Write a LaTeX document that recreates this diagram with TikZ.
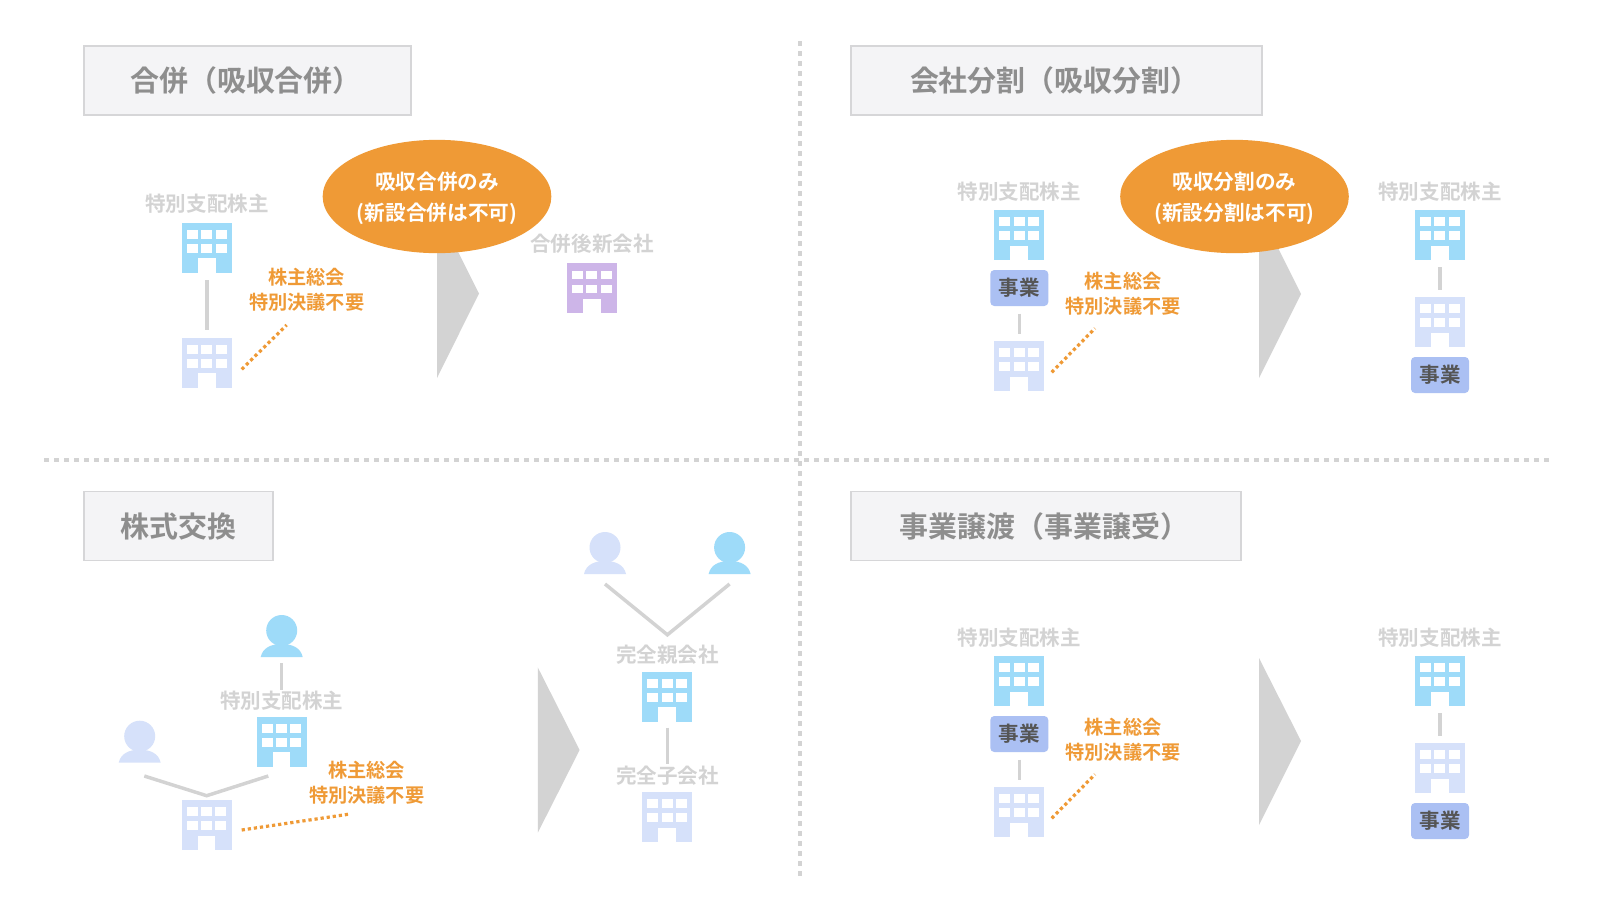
\documentclass[tikz,border=0pt]{standalone}
\usepackage{fontspec}
\setmainfont{Noto Sans CJK JP}[BoldFont={Noto Sans CJK JP Bold}]
\usetikzlibrary{shapes.geometric,calc}
\definecolor{bcyan}{HTML}{9EDBF9}
\definecolor{blight}{HTML}{D6E1FA}
\definecolor{bpurple}{HTML}{CDB5E8}
\definecolor{orangeC}{HTML}{EF9A36}
\definecolor{grayL}{HTML}{D3D3D3}
\definecolor{grayT}{HTML}{8E8E8E}
\definecolor{boxF}{HTML}{F4F4F6}
\definecolor{boxD}{HTML}{D6D6D8}
\definecolor{bizF}{HTML}{ABC0F3}
\definecolor{bizT}{HTML}{555555}
\tikzset{
  x=0.75pt,y=-0.75pt,
  bldg/.style={rectangle,draw=none,inner sep=0pt,outer sep=0pt,minimum size=37.5pt,fill=#1,
    path picture={
      \foreach \wx in {-20,-5.7,8.7}{\foreach \wy in {-17.7,-3.7}{
        \fill[white] (\wx,\wy) rectangle (\wx+11,\wy+8.7);}}
      \fill[white] (-9,10.7) rectangle (8.7,26);
    }},
  person/.style={rectangle,draw=none,inner sep=0pt,outer sep=0pt,minimum size=31.5pt,
    path picture={
      \fill[#1] (0,-5.5) circle [radius=15.5];
      \fill[#1] (-21,21) .. controls (-19,12) and (-11,8) .. (0,8) .. controls (11,8) and (19,12) .. (21,21) -- cycle;
    }},
  titlebox/.style={rectangle,draw=boxD,line width=1.1pt,fill=boxF,inner sep=0pt},
  titletxt/.style={text=grayT,font=\bfseries\fontsize{21.7}{24}\selectfont,inner sep=0pt},
  glabel/.style={text=grayL,font=\bfseries\fontsize{15.4}{19}\selectfont,inner sep=0pt,yshift=-0.5pt},
  olabel/.style={text=orangeC,align=center,font=\bfseries\fontsize{14.4}{19}\selectfont,inner sep=0pt},
  bubble/.style={ellipse,fill=orangeC,inner sep=0pt,minimum width=171.5pt,minimum height=85pt},
  bubbletxt/.style={text=white,align=center,inner sep=0pt,font=\bfseries\fontsize{15.5}{23.6}\selectfont},
  biz/.style={rectangle,rounded corners=3pt,fill=bizF,text=bizT,inner sep=0pt,minimum width=43.5pt,minimum height=27pt,font=\bfseries\fontsize{15.4}{19}\selectfont},
  conn/.style={draw=grayL,line width=2.6pt,shorten >=5.6pt,shorten <=5.6pt},
  connv/.style={draw=grayL,line width=2.6pt},
  dotline/.style={draw=orangeC,line width=2.4pt,dash pattern=on 2.4pt off 2.2pt},
  sep/.style={draw=grayL,line width=3.4pt,dash pattern=on 3.4pt off 4.1pt},
  chev/.style={fill=grayL,draw=none}
}
\begin{document}
\begin{tikzpicture}
\useasboundingbox (0,0) rectangle (1600,900);
\fill[white] (0,0) rectangle (1600,900);
% separators
\coordinate (sepT) at (800,41); \coordinate (sepB) at (800,878);
\coordinate (sepL) at (44,460); \coordinate (sepR) at (1550,460);
\draw[sep] (sepT) -- (sepB);
\draw[sep] (sepL) -- (sepR);
% titles
\node[titlebox,minimum width=245pt,minimum height=52pt] (tA) at (247.5,80.5) {};
\node[titletxt] (tAt) at (246,81) {合併（吸収合併）};
\node[titlebox,minimum width=308.5pt,minimum height=52pt] (tB) at (1056.5,80.5) {};
\node[titletxt] (tBt) at (1054.7,81) {会社分割（吸収分割）};
\node[titlebox,minimum width=141.75pt,minimum height=52pt] (tC) at (178.5,526) {};
\node[titletxt] (tCt) at (178.2,526.5) {株式交換};
\node[titlebox,minimum width=292.5pt,minimum height=52pt] (tD) at (1046,526) {};
\node[titletxt] (tDt) at (1044.5,526.5) {事業譲渡（事業譲受）};
% Panel A
\fill[chev] (437,210) -- (479,293.5) -- (437,378) -- cycle;
\node[glabel] (aL) at (207,203) {特別支配株主};
\node[bldg=bcyan] (a1) at (207,247.7) {};
\node[bldg=blight] (a2) at (207,362.7) {};
\draw[conn] (a1) -- (a2);
\node[olabel] (aO) at (306.7,290) {株主総会\\特別決議不要};
\coordinate (aD1) at (241.7,369.3); \coordinate (aD2) at (286.7,325);
\draw[dotline] (aD1) -- (aD2);
\node[bubble] (aE) at (437,196.5) {};
\node[bubbletxt] (aEt) at (437,198.5) {吸収合併のみ\\(新設合併は不可)};
\node[glabel] (aR) at (592,243) {合併後新会社};
\node[bldg=bpurple] (a3) at (592,288.3) {};
% Panel B
\fill[chev] (1259,210) -- (1301,294) -- (1259,378) -- cycle;
\node[glabel] (bL) at (1019.3,190.7) {特別支配株主};
\node[bldg=bcyan] (b1) at (1019.3,235) {};
\node[biz] (b1b) at (1019.3,288) {事業};
\node[bldg=blight] (b2) at (1019.3,366) {};
\draw[conn] (b1b) -- (b2);
\node[olabel] (bO) at (1123,293.8) {株主総会\\特別決議不要};
\coordinate (bD1) at (1051.7,372.3); \coordinate (bD2) at (1095,328.3);
\draw[dotline] (bD1) -- (bD2);
\node[bubble] (bE) at (1234.5,196.5) {};
\node[bubbletxt] (bEt) at (1234.5,198.5) {吸収分割のみ\\(新設分割は不可)};
\node[glabel] (bR) at (1440,190.7) {特別支配株主};
\node[bldg=bcyan] (b3) at (1440,235) {};
\node[bldg=blight] (b4) at (1440,322) {};
\draw[conn] (b3) -- (b4);
\node[biz] (b4b) at (1440,375) {事業};
% Panel D
\fill[chev] (1259,658) -- (1301,741) -- (1259,825) -- cycle;
\node[glabel] (dL) at (1019.3,636.7) {特別支配株主};
\node[bldg=bcyan] (d1) at (1019.3,681) {};
\node[biz] (d1b) at (1019.3,734) {事業};
\node[bldg=blight] (d2) at (1019.3,812) {};
\draw[conn] (d1b) -- (d2);
\node[olabel] (dO) at (1123,740) {株主総会\\特別決議不要};
\coordinate (dD1) at (1051.7,818.3); \coordinate (dD2) at (1095,774.3);
\draw[dotline] (dD1) -- (dD2);
\node[glabel] (dR) at (1440,636.7) {特別支配株主};
\node[bldg=bcyan] (d3) at (1440,681) {};
\node[bldg=blight] (d4) at (1440,768) {};
\draw[conn] (d3) -- (d4);
\node[biz] (d4b) at (1440,821) {事業};
% Panel C
\fill[chev] (537.8,667.4) -- (579.6,750) -- (537.8,832.7) -- cycle;
\node[person=bcyan] (cP1) at (281.7,636) {};
\node[glabel] (cL) at (281.7,700) {特別支配株主};
\draw[connv] ($(cP1.south)+(0,6)$) -- ($(cL.north)+(0,-1)$);
\node[bldg=bcyan] (c1) at (281.7,741.7) {};
\node[person=blight] (cP2) at (139.7,741.7) {};
\node[bldg=blight] (c2) at (206.7,825) {};
\coordinate (cVa) at (144.3,776); \coordinate (cVb) at (206.7,795.7); \coordinate (cVc) at (268.3,776);
\draw[connv] (cVa) -- (cVb) -- (cVc);
\node[olabel] (cO) at (366.7,782.5) {株主総会\\特別決議不要};
\coordinate (cD1) at (241.7,830); \coordinate (cD2) at (350,814);
\draw[dotline] (cD1) -- (cD2);
\node[person=blight] (cP3) at (605,553) {};
\node[person=bcyan] (cP4) at (729.6,553) {};
\coordinate (cWa) at (605,584); \coordinate (cWb) at (667.4,634.8); \coordinate (cWc) at (729.6,584);
\draw[connv] (cWa) -- (cWb) -- (cWc);
\node[glabel] (cM) at (667.4,654) {完全親会社};
\node[bldg=bcyan] (c3) at (667.4,696.5) {};
\node[glabel] (cS) at (667.4,774.6) {完全子会社};
\node[bldg=blight] (c4) at (667.4,817) {};
\draw[connv] ($(c3.south)+(0,6)$) -- ($(cS.north)+(0,-1)$);
\end{tikzpicture}
\end{document}
